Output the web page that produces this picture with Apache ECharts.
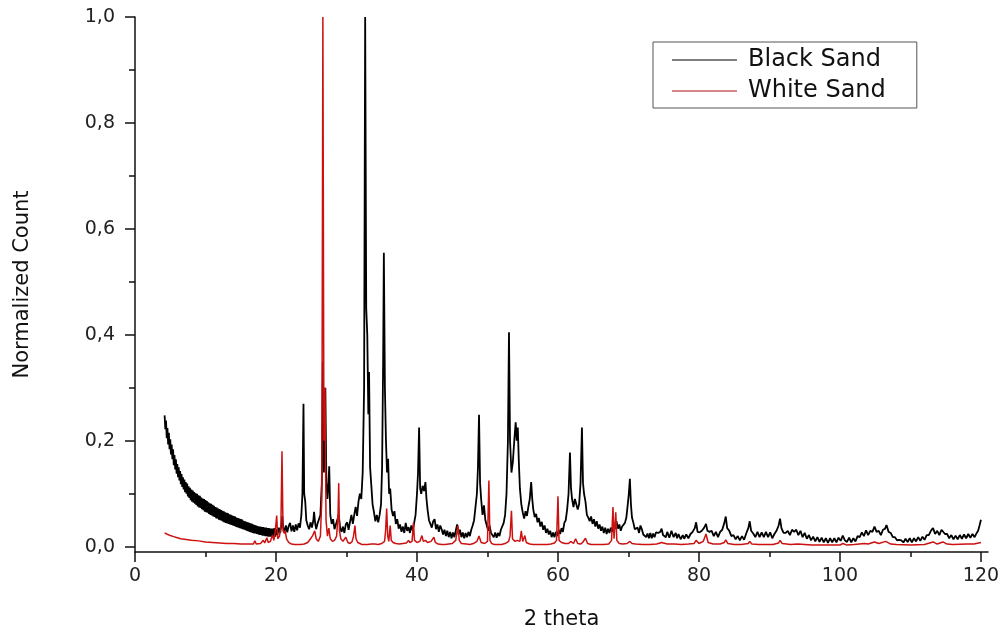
<!DOCTYPE html>
<html>
<head>
<meta charset="utf-8">
<script src="https://cdn.jsdelivr.net/npm/echarts@6/dist/echarts.min.js"></script>
<style>
html,body{margin:0;padding:0;background:#fff;}
#chart{width:1007px;height:635px;}
</style>
</head>
<body>
<div id="chart"></div>
<script>
// ---- data (2 theta, normalized count) ----
var seriesNames = ["Black Sand", "White Sand"];
var xTickLabels = [0, 20, 40, 60, 80, 100, 120];
var xMinorTicks = [10, 30, 50, 70, 90, 110];
var yTickLabels = [0, 0.2, 0.4, 0.6, 0.8, 1.0];
var yMinorTicks = [0.1, 0.3, 0.5, 0.7, 0.9];

var blackLow = [
[4.2,.248],[4.3,.222],[4.4,.238],[4.5,.205],[4.6,.224],[4.7,.193],[4.8,.215],[4.9,.184],[5.0,.203],[5.1,.174],
[5.2,.193],[5.3,.165],[5.4,.184],[5.5,.154],[5.6,.173],[5.7,.146],[5.8,.165],[5.9,.138],[6.0,.156],[6.1,.131],
[6.2,.15],[6.3,.125],[6.4,.143],[6.5,.118],[6.6,.137],[6.7,.113],[6.8,.131],[6.9,.108],[7.0,.127],[7.1,.103],
[7.2,.122],[7.3,.1],[7.4,.119],[7.5,.095],[7.6,.114],[7.7,.092],[7.8,.111],[7.9,.088],[8.0,.108],[8.1,.085],
[8.2,.106],[8.3,.083],[8.4,.103],[8.5,.081],[8.6,.101],[8.7,.079],[8.8,.1],[8.9,.076],[9.0,.097],[9.1,.074],
[9.2,.096],[9.3,.073],[9.4,.093],[9.5,.071],[9.6,.091],[9.7,.069],[9.8,.09],[9.9,.066],[10.0,.088],[10.1,.065],
[10.2,.086],[10.3,.064],[10.4,.084],[10.5,.062],[10.6,.082],[10.7,.06],[10.8,.081],[10.9,.059],[11.0,.079],[11.1,.057],
[11.2,.077],[11.3,.056],[11.4,.075],[11.5,.054],[11.6,.074],[11.7,.053],[11.8,.072],[11.9,.051],[12.0,.071],[12.1,.05],
[12.2,.069],[12.3,.049],[12.4,.068],[12.5,.047],[12.6,.067],[12.7,.046],[12.8,.065],[12.9,.045],[13.0,.064],[13.1,.044],
[13.2,.063],[13.3,.043],[13.4,.061],[13.5,.042],[13.6,.06],[13.7,.041],[13.8,.059],[13.9,.04],[14.0,.058],[14.1,.039],
[14.2,.057],[14.3,.038],[14.4,.055],[14.5,.037],[14.6,.054],[14.7,.036],[14.8,.053],[14.9,.035],[15.0,.052],[15.1,.034],
[15.2,.051],[15.3,.033],[15.4,.049],[15.5,.032],[15.6,.048],[15.7,.031],[15.8,.047],[15.9,.03],[16.0,.046],[16.1,.029],
[16.2,.045],[16.3,.028],[16.4,.044],[16.5,.027],[16.6,.043],[16.7,.026],[16.8,.042],[16.9,.025],[17.0,.041],[17.1,.025],
[17.2,.04],[17.3,.024],[17.4,.039],[17.5,.023],[17.6,.038],[17.7,.022],[17.8,.038],[17.9,.022],[18.0,.037],[18.1,.021],
[18.2,.037],[18.3,.021],[18.4,.036],[18.5,.02],[18.6,.036],[18.7,.02],[18.8,.035],[18.9,.019],[19.0,.035],[19.1,.019],
[19.2,.034],[19.3,.019],[19.4,.034],[19.5,.018],[19.6,.034],[19.7,.019],[19.8,.035],[19.9,.019]
];

var blackMid = [
[20.0,.033],[20.2,.022],[20.4,.036],[20.6,.026],[20.8,.045],[20.9,.058],[21.0,.038],[21.2,.027],[21.4,.04],[21.6,.027],
[21.8,.039],[22.0,.045],[22.2,.029],[22.4,.04],[22.6,.028],[22.8,.042],[23.0,.031],[23.2,.044],[23.4,.036],[23.6,.06],
[23.75,.1],[23.9,.27],[24.0,.1],[24.15,.085],[24.3,.05],[24.5,.04],[24.7,.033],[24.9,.046],[25.1,.036],[25.3,.05],
[25.4,.066],[25.55,.045],[25.7,.033],[25.9,.044],[26.1,.046],[26.3,.06],[26.5,.12],[26.65,.35],[26.8,.14],[27.0,.3],
[27.15,.12],[27.3,.09],[27.45,.12],[27.55,.152],[27.7,.06],[27.9,.043],[28.1,.052],[28.3,.033],[28.5,.042],[28.7,.043],
[28.9,.06],[29.1,.036],[29.3,.028],[29.5,.038],[29.7,.026],[29.9,.042],[30.1,.046],[30.3,.032],[30.5,.047],[30.7,.06],
[30.9,.043],[31.1,.06],[31.3,.075],[31.5,.058],[31.7,.085],[31.9,.1],[32.1,.09],[32.3,.14],[32.5,.3],[32.65,1.0],
[32.8,.45],[32.95,.4],[33.1,.25],[33.2,.33],[33.35,.15],[33.5,.12],[33.7,.08],[33.9,.065],[34.1,.048],[34.3,.06],
[34.5,.046],[34.7,.06],[34.9,.08],[35.05,.15],[35.2,.35],[35.3,.555],[35.45,.3],[35.6,.2],[35.75,.14],[35.9,.166],
[36.05,.1],[36.2,.11],[36.4,.07],[36.6,.058],[36.8,.067],[37.0,.043],[37.2,.052],[37.4,.034],[37.6,.042],[37.8,.028],
[38.0,.038],[38.2,.026],[38.4,.045],[38.6,.03],[38.8,.037],[39.0,.026],[39.2,.04],[39.4,.03],[39.6,.045],[39.8,.06],
[40.0,.1],[40.15,.14],[40.3,.225],[40.45,.11],[40.6,.1],[40.8,.115],[41.0,.105],[41.2,.122],[41.35,.09],[41.5,.07],
[41.7,.05],[41.9,.043]
];

var blackHigh1 = [
[42.1,.036],[42.3,.048],[42.5,.052],[42.7,.033],[42.9,.042],[43.1,.028],[43.3,.04],[43.5,.033],[43.7,.023],[43.9,.032],
[44.1,.02],[44.3,.03],[44.5,.018],[44.7,.028],[44.9,.016],[45.1,.027],[45.3,.018],[45.5,.03],[45.7,.042],[45.9,.023],
[46.1,.032],[46.3,.018],[46.5,.027],[46.7,.016],[46.9,.026],[47.1,.018],[47.3,.028],[47.5,.02],[47.7,.032],[47.9,.04],
[48.1,.05],[48.3,.075],[48.5,.1],[48.65,.15],[48.8,.249],[48.95,.12],[49.1,.09],[49.3,.06],[49.5,.078],[49.7,.05],
[49.9,.04],[50.1,.03],[50.3,.04],[50.5,.026],[50.7,.026],[50.9,.018],[51.1,.027],[51.3,.017],[51.5,.026],[51.7,.02],
[51.9,.032],[52.1,.035],[52.3,.045],[52.5,.06],[52.7,.1],[52.9,.2],[53.05,.405],[53.2,.2],[53.4,.14],[53.6,.16],
[53.8,.2],[54.0,.235],[54.15,.2],[54.3,.225],[54.45,.16],[54.6,.11],[54.8,.08],[55.0,.065],[55.2,.053],[55.4,.067],
[55.6,.058],[55.8,.075],[56.0,.09],[56.2,.122],[56.35,.09],[56.5,.07],[56.7,.056],[56.9,.062],[57.1,.046],[57.3,.054],
[57.5,.038],[57.7,.047],[57.9,.032],[58.1,.04],[58.3,.026],[58.5,.034],[58.7,.023],[58.9,.03],[59.1,.018],[59.3,.027],
[59.5,.018],[59.7,.028],[59.9,.02],[60.1,.032],[60.3,.024],[60.5,.035],[60.7,.028],[60.9,.045],[61.1,.05],[61.3,.07],
[61.5,.1],[61.7,.178],[61.85,.11],[62.0,.09],[62.2,.075],[62.4,.09],[62.6,.08],[62.8,.07],[63.0,.08],[63.2,.12],
[63.4,.225],[63.55,.12],[63.7,.1],[63.9,.085],[64.1,.06],[64.3,.055],[64.5,.048],[64.7,.057],[64.9,.043],[65.1,.052],
[65.3,.038],[65.5,.048],[65.7,.034],[65.9,.042],[66.1,.03],[66.3,.038],[66.5,.026],[66.7,.036],[66.9,.024],[67.1,.034],
[67.3,.026],[67.5,.036],[67.7,.028],[67.9,.042],[68.1,.034],[68.3,.048],[68.5,.034],[68.7,.042],[68.9,.03],[69.1,.038],
[69.3,.036],[69.5,.045],[69.7,.055],[69.9,.08],[70.05,.1],[70.2,.128],[70.35,.08],[70.5,.055],[70.7,.045],[70.9,.033]
];

var blackHigh2 = [
[71.1,.03],[71.3,.036],[71.5,.026],[71.7,.04],[71.9,.033],[72.1,.023],[72.3,.026],[72.5,.018],[72.7,.025],[72.9,.016],
[73.1,.026],[73.3,.016],[73.5,.025],[73.7,.018],[73.9,.027],[74.2,.026],[74.5,.028],[74.7,.034],[74.9,.022],[75.1,.024],
[75.3,.018],[75.5,.028],[75.8,.017],[76.1,.03],[76.4,.018],[76.7,.026],[76.9,.016],[77.1,.024],[77.4,.014],[77.7,.022],
[77.9,.015],[78.2,.023],[78.5,.016],[78.8,.024],[79.1,.028],[79.4,.035],[79.6,.046],[79.8,.028],[80.1,.027],[80.4,.03],
[80.7,.035],[81.0,.043],[81.2,.03],[81.5,.028],[81.8,.03],[82.1,.02],[82.4,.028],[82.7,.018],[83.0,.028],[83.3,.032],
[83.6,.045],[83.8,.057],[84.0,.035],[84.3,.03],[84.6,.02],[84.9,.022],[85.2,.014],[85.5,.02],[85.8,.012],[86.1,.02],
[86.4,.013],[86.7,.025],[87.0,.035],[87.2,.048],[87.4,.03],[87.7,.025],[88.0,.018],[88.3,.028],[88.6,.018],[88.9,.027],
[89.2,.018],[89.5,.028],[89.8,.018],[90.1,.027],[90.4,.016],[90.7,.024],[91.0,.03],[91.3,.04],[91.5,.053],[91.7,.035],
[92.0,.026],[92.3,.026],[92.6,.03],[92.9,.022],[93.2,.032],[93.5,.028],[93.8,.032],[94.1,.022],[94.4,.03],[94.7,.018],
[95.0,.026],[95.3,.015],[95.6,.022],[95.9,.012],[96.2,.019],[96.5,.01],[96.8,.018],[97.1,.009],[97.4,.017],[97.7,.008],
[98.0,.016],[98.3,.007],[98.6,.016],[98.9,.008],[99.2,.016],[99.5,.008],[99.8,.017],[100.1,.011],[100.4,.021],[100.7,.012],
[101.0,.009],[101.3,.017],[101.6,.008],[101.9,.016],[102.2,.01],[102.5,.02],[102.8,.018],[103.1,.027],[103.4,.02],[103.7,.031],
[104.0,.022],[104.3,.03],[104.6,.028],[104.9,.038],[105.2,.028],[105.5,.03],[105.8,.022],[106.1,.032],[106.4,.034],[106.6,.041],
[106.9,.028],[107.2,.026],[107.5,.018],[107.8,.018],[108.1,.012],[108.4,.013],[108.7,.012],[109.0,.008],[109.3,.015],[109.6,.009],
[109.9,.016],[110.2,.008],[110.5,.016],[110.8,.01],[111.1,.018],[111.4,.011],[111.7,.019],[112.0,.013],[112.3,.022],[112.6,.022],
[112.9,.03],[113.2,.035],[113.5,.024],[113.8,.03],[114.1,.022],[114.4,.032],[114.6,.035],[114.9,.024],[115.2,.024],[115.5,.016],
[115.8,.022],[116.1,.014],[116.4,.021],[116.7,.014],[117.0,.022],[117.3,.015],[117.6,.023],[117.9,.016],[118.2,.024],[118.5,.017],
[118.8,.024],[119.1,.018],[119.4,.026],[119.6,.03],[119.8,.04],[120.0,.051]
];

var whiteA = [
[4.2,.026],[4.5,.024],[5,.021],[5.5,.019],[6,.017],[6.5,.015],[7,.014],[7.5,.013],[8,.012],[9,.011],
[10,.009],[11,.008],[12,.007],[13,.006],[14,.006],[15,.005],[16,.005],[16.8,.005],[17.0,.011],[17.2,.005],
[17.8,.006],[18.2,.012],[18.4,.007],[18.7,.017],[18.9,.008],[19.2,.01],[19.5,.022],[19.7,.012],[19.9,.03],[20.1,.059],
[20.25,.015],[20.5,.02],[20.7,.04],[20.85,.18],[21.0,.03],[21.2,.025],[21.3,.03],[21.5,.015],[21.8,.008],[22.2,.005],
[22.6,.004],[23.0,.004],[23.5,.004],[24.0,.005],[24.5,.008],[24.9,.015],[25.2,.021],[25.5,.03],[25.7,.015],[26.0,.01],
[26.3,.02],[26.5,.09],[26.65,1.0],[26.8,.2],[26.95,.3],[27.1,.05],[27.3,.02],[27.5,.035],[27.7,.015],[28.0,.01],
[28.3,.012],[28.6,.02],[28.8,.06],[28.9,.12],[29.0,.03],[29.2,.015],[29.5,.01],[29.9,.018]
];

var whiteB = [
[30.2,.008],[30.5,.006],[30.8,.01],[31.0,.02],[31.2,.04],[31.35,.015],[31.6,.008],[31.9,.006],[32.2,.004],[32.6,.004],
[33.0,.004],[33.5,.005],[34.0,.005],[34.5,.004],[35.0,.006],[35.4,.01],[35.55,.03],[35.7,.072],[35.85,.02],[36.0,.01],
[36.2,.04],[36.35,.012],[36.6,.008],[37,.006],[37.5,.005],[38,.006],[38.5,.007],[38.8,.012],[39.0,.008],[39.3,.01],
[39.5,.045],[39.65,.012],[40.0,.008],[40.4,.01],[40.7,.021],[40.9,.01],[41.2,.012],[41.5,.008],[42.0,.01],[42.4,.018],
[42.6,.008],[43.0,.005],[43.5,.004],[44,.004],[44.5,.005],[45.0,.006],[45.5,.012],[45.8,.04],[46.0,.012],[46.3,.006],
[47,.005],[47.5,.004],[48,.006],[48.5,.01],[48.8,.02],[49.1,.008],[49.6,.006],[50.0,.01],[50.2,.125],[50.35,.012],
[50.6,.006],[51,.004],[51.5,.004],[52,.004],[52.5,.006],[53.0,.01],[53.2,.02],[53.4,.068],[53.55,.015],[53.9,.01],
[54.2,.012],[54.6,.01],[54.8,.03],[55.0,.01],[55.3,.021],[55.5,.008],[56,.005],[56.5,.004],[57,.004],[57.5,.004],
[58,.004],[58.5,.004],[59,.005],[59.5,.007],[59.8,.012],[60.0,.095],[60.15,.012],[60.5,.008],[61.0,.006],[61.5,.006],
[61.8,.01],[62.2,.006],[62.5,.015],[62.8,.006],[63.2,.005],[63.5,.008],[63.9,.016],[64.2,.006],[64.7,.004],[65.5,.004],
[66.5,.004],[67.2,.005],[67.6,.012],[67.8,.075],[67.95,.015],[68.2,.065],[68.35,.012],[68.7,.006],[69.2,.005],[69.8,.006]
];

var whiteC = [
[70.2,.01],[70.5,.006],[71,.005],[72,.004],[73,.004],[74,.005],[74.7,.008],[75.5,.005],[76.5,.005],[77.5,.004],
[78.5,.005],[79.3,.006],[79.6,.012],[80,.006],[80.6,.01],[81.0,.024],[81.3,.008],[82,.005],[83,.005],[83.6,.008],
[83.8,.013],[84.1,.006],[85,.004],[86,.004],[87.0,.006],[87.2,.01],[87.5,.005],[88.5,.004],[89.5,.004],[90.5,.004],
[91.3,.007],[91.5,.012],[91.8,.006],[93,.004],[94,.005],[95,.004],[96,.003],[98,.003],[100,.003],[100.4,.006],
[101,.003],[102,.004],[103.5,.006],[104,.005],[104.9,.009],[105.5,.006],[106.5,.01],[107.2,.005],[108,.004],[110,.003],
[112,.004],[113.2,.009],[113.8,.005],[114.6,.009],[115.2,.005],[116,.004],[118,.005],[119,.005],[120,.008]
];

// ---- chart ----
var FONT = 'DejaVu Sans';
var blackData = blackLow.concat(blackMid, blackHigh1, blackHigh2);
var whiteData = whiteA.concat(whiteB, whiteC);

var chart = echarts.init(document.getElementById('chart'), null, {renderer: 'canvas'});
var fmt = function (v) { return Number(v).toFixed(1).replace('.', ','); };
var option = {
  animation: false,
  backgroundColor: '#ffffff',
  grid: {left: 135, right: 19, top: 17, bottom: 82, containLabel: false},
  legend: {
    orient: 'vertical',
    left: 653, top: 42,
    padding: [6, 31, 5, 19],
    itemGap: 7,
    itemWidth: 65, itemHeight: 1.5,
    icon: 'rect',
    borderColor: '#555', borderWidth: 1,
    backgroundColor: '#fff',
    textStyle: {fontFamily: FONT, fontSize: 24, color: '#111', padding: [0, 0, 0, 6]},
    data: [
      {name: seriesNames[0], itemStyle: {color: '#555555'}},
      {name: seriesNames[1], itemStyle: {color: '#c86060'}}
    ]
  },
  xAxis: [{
    type: 'value', min: 0, max: 121, position: 'bottom',
    name: '2 theta', nameLocation: 'middle', nameGap: 57,
    nameTextStyle: {fontFamily: FONT, fontSize: 21, color: '#111'},
    axisLine: {onZero: false, lineStyle: {color: '#111', width: 1.5}},
    axisTick: {inside: false, length: 10, customValues: xTickLabels, lineStyle: {color: '#111', width: 1.5}},
    axisLabel: {customValues: xTickLabels, margin: 15, fontFamily: FONT, fontSize: 19, color: '#222'},
    splitLine: {show: false}
  }, {
    type: 'value', min: 0, max: 121, position: 'bottom',
    axisLine: {show: false, onZero: false},
    axisTick: {inside: false, length: 5, customValues: xMinorTicks, lineStyle: {color: '#111', width: 1.5}},
    axisLabel: {show: false},
    splitLine: {show: false}
  }],
  yAxis: [{
    type: 'value', min: -0.01, max: 1.0, position: 'left',
    name: 'Normalized Count', nameLocation: 'middle', nameGap: 102, nameRotate: 90,
    nameTextStyle: {fontFamily: FONT, fontSize: 21, color: '#111'},
    axisLine: {show: true, onZero: false, lineStyle: {color: '#111', width: 1.5}},
    axisTick: {show: true, inside: false, length: 10, customValues: yTickLabels, lineStyle: {color: '#111', width: 1.5}},
    axisLabel: {customValues: yTickLabels, margin: 20, formatter: fmt, fontFamily: FONT, fontSize: 19, color: '#222'},
    splitLine: {show: false}
  }, {
    type: 'value', min: -0.01, max: 1.0, position: 'left',
    axisLine: {show: false, onZero: false},
    axisTick: {show: true, inside: false, length: 6, customValues: yMinorTicks, lineStyle: {color: '#111', width: 1.5}},
    axisLabel: {show: false},
    splitLine: {show: false}
  }],
  series: [{
    name: seriesNames[0], type: 'line', xAxisIndex: 0, yAxisIndex: 0,
    data: blackData, symbol: 'none', showSymbol: false, silent: true,
    color: '#000000',
    lineStyle: {color: '#000000', width: 1.8}
  }, {
    name: seriesNames[1], type: 'line', xAxisIndex: 0, yAxisIndex: 0,
    data: whiteData, symbol: 'none', showSymbol: false, silent: true,
    color: '#cc1111',
    lineStyle: {color: '#cc1111', width: 1.5}
  }]
};
chart.setOption(option);
</script>
</body>
</html>
